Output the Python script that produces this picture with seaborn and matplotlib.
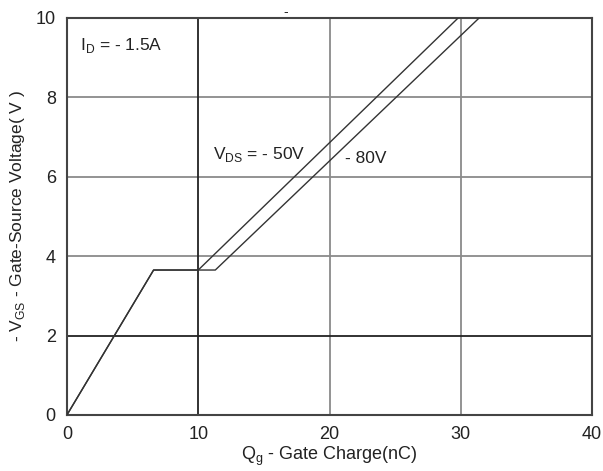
import pandas as pd
import matplotlib
matplotlib.use('Agg')
import matplotlib.pyplot as plt
import seaborn as sns

# gate charge curves
qg_50 = [0, 6.6, 10.0, 29.8]
vgs_50 = [0, 3.65, 3.65, 10.0]
qg_80 = [0, 6.6, 11.3, 31.4]
vgs_80 = [0, 3.65, 3.65, 10.0]

xticks = [0, 10, 20, 30, 40]
yticks = [0, 2, 4, 6, 8, 10]

sns.set_style("white")
plt.rcParams['font.family'] = ['Liberation Sans Narrow', 'Liberation Sans', 'DejaVu Sans']

df = pd.concat([
    pd.DataFrame({'qg': qg_50, 'vgs': vgs_50, 'vds': '-50V'}),
    pd.DataFrame({'qg': qg_80, 'vgs': vgs_80, 'vds': '-80V'}),
], ignore_index=True)

fig, ax = plt.subplots(figsize=(6.03, 4.71), dpi=100)
fig.subplots_adjust(left=0.111, right=0.982, top=0.962, bottom=0.119)

# grid: the 10nC and 2V lines are dark, the rest gray
for x in [20, 30]:
    ax.axvline(x, color='#8a8a8a', lw=1.3, zorder=1)
for y in [4, 6, 8]:
    ax.axhline(y, color='#8a8a8a', lw=1.3, zorder=1)
ax.axvline(10, color='#222222', lw=1.3, zorder=1)
ax.axhline(2, color='#222222', lw=1.3, zorder=1)

sns.lineplot(data=df, x='qg', y='vgs', hue='vds', palette=['#333333', '#333333'],
             legend=False, lw=1.0, ax=ax, sort=False, estimator=None, zorder=3)

ax.set_xlim(0, 40)
ax.set_ylim(0, 10)
ax.set_xticks(xticks)
ax.set_yticks(yticks)
ax.tick_params(labelsize=13, length=0, pad=8, labelcolor='#222222')
for s in ax.spines.values():
    s.set_color('#444444')
    s.set_linewidth(1.5)

ax.set_xlabel('Q$_{\\mathregular{g}}$ - Gate Charge(nC)', fontsize=13, labelpad=1, color='#222222')
ax.set_ylabel('- V$_{\\mathregular{GS}}$ - Gate-Source Voltage( V )', fontsize=12.5, labelpad=6, color='#222222')

ax.text(1.0, 9.3, 'I$_{\\mathregular{D}}$ = - 1.5A', fontsize=12.5, va='center', color='#222222')
ax.text(11.1, 6.55, 'V$_{\\mathregular{DS}}$ = - 50V', fontsize=12.5, va='center', color='#222222')
ax.text(21.2, 6.47, '- 80V', fontsize=12.5, va='center', color='#222222')
ax.text(16.5, 10.05, '-', fontsize=10)

plt.savefig('out.png', dpi=100)
